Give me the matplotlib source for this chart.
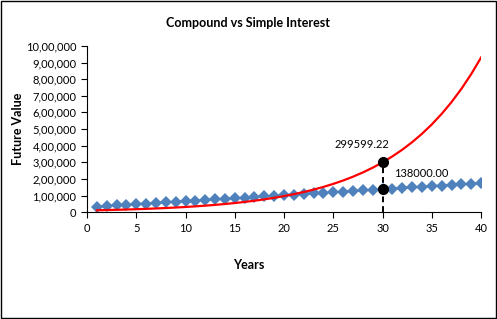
import matplotlib
matplotlib.use('Agg')
import matplotlib.pyplot as plt
from matplotlib.ticker import FuncFormatter
from matplotlib.patches import Rectangle

# Data (principal 10,000 compounding / 30,000 simple, 12%)
years = list(range(1, 41))
compound = [11200, 12544, 14049, 15735, 17623, 19738, 22107, 24760, 27731, 31058,
            34785, 38960, 43635, 48871, 54736, 61304, 68660, 76900, 86128, 96463,
            108038, 121003, 135523, 151786, 170001, 190401, 213249, 238839, 267499, 299599.22,
            335551, 375817, 420915, 471425, 527996, 591356, 662318, 741797, 830812, 930510]
simple = [33600, 37200, 40800, 44400, 48000, 51600, 55200, 58800, 62400, 66000,
          69600, 73200, 76800, 80400, 84000, 87600, 91200, 94800, 98400, 102000,
          105600, 109200, 112800, 116400, 120000, 123600, 127200, 130800, 134400, 138000,
          141600, 145200, 148800, 152400, 156000, 159600, 163200, 166800, 170400, 174000]
mark_year = 30
mark_compound = 299599.22
mark_simple = 138000.00

plt.rcParams['font.family'] = ['Lato', 'DejaVu Sans']


def indian_fmt(v, pos):
    n = int(round(v))
    if n == 0:
        return '0'
    s = str(n)
    last3 = s[-3:]
    rest = s[:-3]
    parts = []
    while len(rest) > 2:
        parts.insert(0, rest[-2:])
        rest = rest[:-2]
    if rest:
        parts.insert(0, rest)
    return ','.join(parts + [last3])


fig = plt.figure(figsize=(4.97, 3.19), dpi=100)
ax = fig.add_axes([0.175, 0.335, 0.793, 0.521])

ax.plot(years, simple, color='#4F81BD', linewidth=1.5, marker='D',
        markersize=6.2, markeredgewidth=0, zorder=2)
ax.plot(years, compound, color='#FF0000', linewidth=1.6, zorder=3)

ax.plot([mark_year, mark_year], [0, mark_compound], color='black',
        linestyle=(0, (3, 2)), linewidth=1.4, zorder=4)
ax.plot([mark_year, mark_year], [mark_compound, mark_simple], 'o',
        color='black', markersize=7, zorder=5)
ax.annotate(f'{mark_compound:.2f}', (mark_year, mark_compound),
            xytext=(-15, 13), textcoords='offset points', ha='center', va='center',
            fontsize=8)
ax.annotate(f'{mark_simple:.2f}', (mark_year, mark_simple),
            xytext=(28, 11), textcoords='offset points', ha='center', va='center',
            fontsize=8)

ax.set_xlim(0, 40)
ax.set_ylim(0, 1000000)
ax.set_xticks(range(0, 41, 5))
ax.set_yticks(range(0, 1000001, 100000))
ax.yaxis.set_major_formatter(FuncFormatter(indian_fmt))
ax.tick_params(labelsize=8, length=4, width=0.8, direction='out')
ax.spines['top'].set_visible(False)
ax.spines['right'].set_visible(False)

fig.text(0.5, 0.928, 'Compound vs Simple Interest', ha='center', va='center',
         fontsize=9, fontweight='bold')
fig.text(0.5, 0.169, 'Years', ha='center', va='center', fontsize=9, fontweight='bold')
fig.text(0.036, 0.595, 'Future Value', ha='center', va='center', rotation=90,
         fontsize=9, fontweight='bold')

fig.patches.append(Rectangle((0.002, 0.003), 0.995, 0.994, transform=fig.transFigure,
                             fill=False, edgecolor='black', linewidth=1))

fig.savefig('out.png', dpi=100)
